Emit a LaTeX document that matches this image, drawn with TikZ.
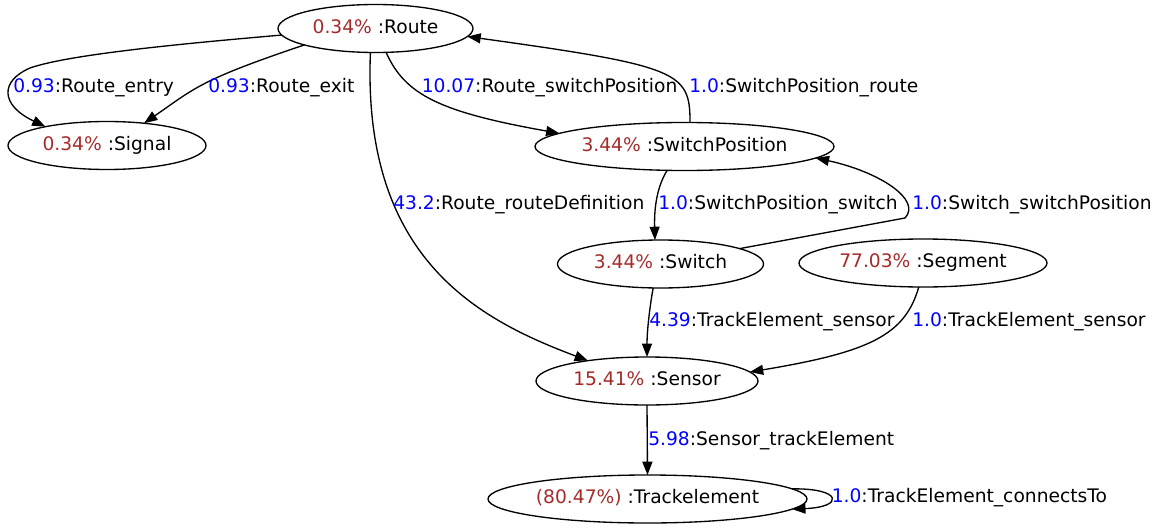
\documentclass[tikz,border=0pt]{standalone}
\usepackage{fontspec}
\setmainfont{DejaVu Sans}
\usetikzlibrary{arrows.meta,shapes.geometric}
\definecolor{pctred}{HTML}{A52A2A}
\definecolor{numblue}{HTML}{0000FF}
\newcommand{\pcnt}[1]{\textcolor{pctred}{#1}}
\newcommand{\numb}[1]{\textcolor{numblue}{#1}}
\begin{document}
\begin{tikzpicture}[x=0.75pt,y=-0.75pt,
  every node/.style={font=\fontsize{14pt}{17pt}\selectfont},
  cls/.style={draw, ellipse, inner sep=0pt, outer sep=0pt, line width=1pt,
              text height=0.729em, text depth=0pt, minimum height={48*0.75pt}},
  lbl/.style={anchor=base west, inner sep=0pt},
  edge/.style={line width=1pt, -{Triangle[length=10pt,width=7.5pt]}},
]
\useasboundingbox (0,0) rectangle (1159,528);

% classes
\node[cls, minimum width={195*0.75pt}] (route)   at (375.5,28.5) {\pcnt{0.34\%} :Route};
\node[cls, minimum width={198*0.75pt}] (signal)  at (107,145.5)  {\pcnt{0.34\%} :Signal};
\node[cls, minimum width={299*0.75pt}] (sp)      at (684.5,146.5) {\pcnt{3.44\%} :SwitchPosition};
\node[cls, minimum width={206*0.75pt}] (switch)  at (660.5,264)  {\pcnt{3.44\%} :Switch};
\node[cls, minimum width={248*0.75pt}] (segment) at (923,263)    {\pcnt{77.03\%} :Segment};
\node[cls, minimum width={222*0.75pt}] (sensor)  at (647,381)    {\pcnt{15.41\%} :Sensor};
\node[cls, minimum width={319*0.75pt}] (track)   at (647.5,499)  {\pcnt{(80.47\%)} :Trackelement};

% connectors
\draw[edge] (route.184) .. controls (190,43) and (70,54) .. (30,68)
            .. controls (0,81) and (0,105) .. (signal.163);
\draw[edge] (route.193) .. controls (200,80) and (195,88) .. (signal.31);
\draw[edge] (route.294) .. controls (405,95) and (440,112) .. (sp.174);
\draw[edge] (sp.77) .. controls (690,72) and (680,66) .. (route.355);
\draw[edge] (route.258) .. controls (362,260) and (480,320) .. (sensor.161);
\draw[edge] (sp.234) .. controls (658,185) and (654,205) .. (switch.103);
\draw[edge] (switch.11) -- (905,218) .. controls (922,200) and (880,172) .. (sp.355);
\draw[edge] (switch.253) .. controls (650,305) and (647,330) .. (sensor.north);
\draw[edge] (segment.260) .. controls (905,335) and (870,352) .. (sensor.5);
\draw[edge] (sensor.south) -- (track.north);
\draw[edge] (track.4) .. controls (842,488) and (845,507) .. (track.356);

% labels
\node[lbl] (l1)  at (13,92.5)    {\numb{0.93}:Route\_entry};
\node[lbl] (l2)  at (208,92.5)   {\numb{0.93}:Route\_exit};
\node[lbl] (l3)  at (421.5,92.5) {\numb{10.07}:Route\_switchPosition};
\node[lbl] (l4)  at (689,92.5)   {\numb{1.0}:SwitchPosition\_route};
\node[lbl] (l5)  at (393,209.5)  {\numb{43.2}:Route\_routeDefinition};
\node[lbl] (l6)  at (658,209.5)  {\numb{1.0}:SwitchPosition\_switch};
\node[lbl] (l7)  at (912,209.5)  {\numb{1.0}:Switch\_switchPosition};
\node[lbl] (l8)  at (649,326.5)  {\numb{4.39}:TrackElement\_sensor};
\node[lbl] (l9)  at (912,326.5)  {\numb{1.0}:TrackElement\_sensor};
\node[lbl] (l10) at (648,445)    {\numb{5.98}:Sensor\_trackElement};
\node[lbl] (l11) at (831.5,502.5) {\numb{1.0}:TrackElement\_connectsTo};
\end{tikzpicture}
\end{document}
